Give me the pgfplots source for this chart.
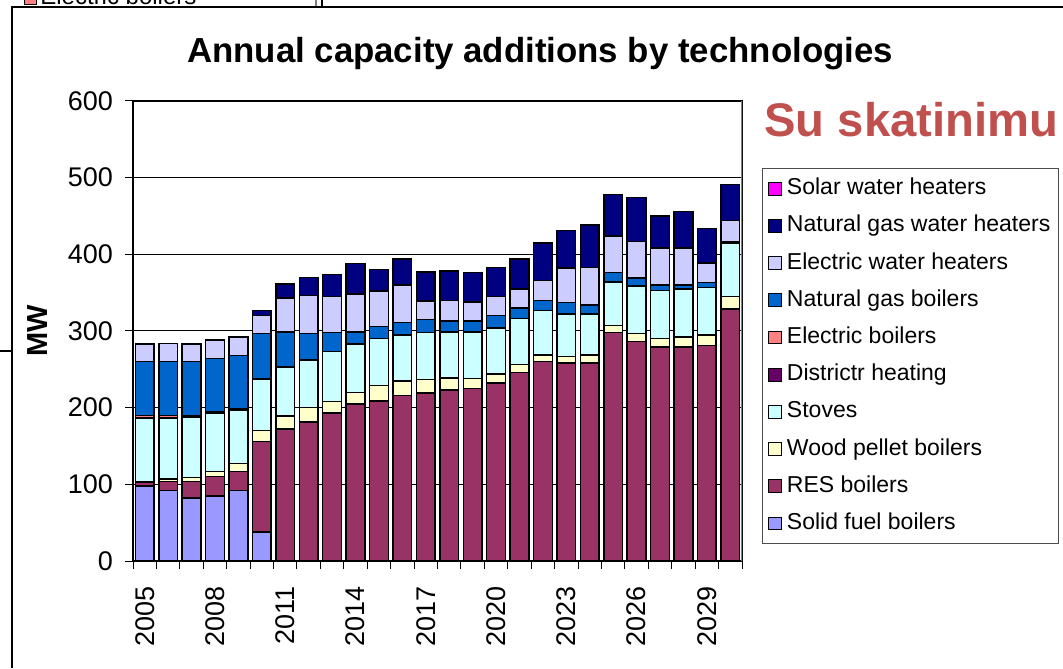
\documentclass[border=0pt]{standalone}
\usepackage{pgfplots}
\pgfplotsset{compat=1.18}
\usepackage{pgfplotstable}
\usepackage{fontspec}
\setmainfont{Liberation Sans}

\definecolor{csf}{HTML}{9999FF}
\definecolor{cres}{HTML}{993366}
\definecolor{cwp}{HTML}{FFFFCC}
\definecolor{cst}{HTML}{CCFFFF}
\definecolor{cdh}{HTML}{660066}
\definecolor{ceb}{HTML}{FF8080}
\definecolor{cng}{HTML}{0066CC}
\definecolor{cewh}{HTML}{CCCCFF}
\definecolor{cngwh}{HTML}{000080}
\definecolor{csol}{HTML}{FF00FF}
\definecolor{skred}{RGB}{192,80,77}

\pgfplotstableread{
year SF RES WP ST DH EB NG EWH NGWH SOL
2005 98 5 0.5 83 0 3 70.5 23 0 0
2006 92 12 3 79.5 0 3 71 23 0 0
2007 82 22 5 79 2 0 70 23 0 0
2008 85 25 7 76 2 0 69 24 0 0
2009 92 25 10 70 2 0 69 24 0 0
2010 38 118 14 67 1 0 59 23 7 0
2011 0 172 17 64 0 0 46 44 18 0
2012 0 181 19 62 0 0 35 49 24 0
2013 0 193 15 65 0 0 25 47 29 0
2014 0 205 15 63 0 0 16 49 40 0
2015 0 209 20 61 0 0 16 46 28 0
2016 0 216 19 60 0 0 16 49 34 0
2017 0 219 18 61 0 0 17 24 38 0
2018 0 223 16 60 0 0 14 27 38 0
2019 0 225 13 61 0 0 14 25 38 0
2020 0 232 12 60 0 0 16 25 38 0
2021 0 246 10 60 0 0 14 25 39 0
2022 0 260 9 58 0 0 13 26 49 0
2023 0 258 9 55 0 0 15 45 49 0
2024 0 258 11 53 0 0 12 49 55 0
2025 0 298 9 57 0 0 12 48 54 0
2026 0 286 11 62 0 0 10 48 57 0
2027 0 279 11 63 0 0 7 48 42 0
2028 0 279 13 63 0 0 5 48 48 0
2029 0 281 14 62 0 0 6 26 45 0
2030 0 329 16 70 0 0 2 27 47 0
}\datatable

\begin{document}
\begin{tikzpicture}
\begin{scope}[x=0.5pt,y=-0.5pt,shift={(0pt,334pt)}]
\path[use as bounding box] (0,0) rectangle (1063,668);
% fragment of a chart behind
\node[anchor=base west,inner sep=0pt,font=\fontsize{12}{14}\selectfont] at (40,5) {Electric boilers};
\draw[fill=ceb,line width=0.5pt] (24,-6) rectangle (36,5);
\draw[gray,line width=0.6pt] (316,0)--(316,7);
\draw[black,line width=0.6pt] (322,0)--(322,7);
\fill[white] (12,7) rectangle (1063,668);
\draw[line width=0.8pt] (12,668)--(12,7)--(1063,7);
\draw[line width=0.6pt] (0,351)--(12,351);
% title
\node[anchor=base,inner sep=0pt,font=\bfseries\fontsize{17.4}{20}\selectfont] at (540,63) {Annual capacity additions by technologies};
\node[anchor=base west,inner sep=0pt,text=skred,font=\bfseries\fontsize{23.6}{27}\selectfont] at (764,137) {Su skatinimu};
\end{scope}
\begin{axis}[
  at={(66.5pt,53.5pt)}, anchor=south west,
  scale only axis, width=304.5pt, height=230pt,
  ybar stacked, bar width=0.8,
  xmin=2004.5, xmax=2030.5, ymin=0, ymax=600,
  xtick={2005,2008,2011,2014,2017,2020,2023,2026,2029},
  minor xtick={2004.5,2005.5,...,2030.5},
  ytick={0,100,200,300,400,500,600},
  ymajorgrids, grid style={black,line width=0.5pt},
  axis line style={black,line width=0.6pt},
  tick align=outside, tick pos=left,
  major x tick style={draw=none},
  tick style={black,line width=0.5pt},
  major tick length=4pt, minor tick length=4pt,
  /pgf/number format/1000 sep={},
  /pgf/number format/assume math mode=true,
  tick label style={font=\fontsize{13.5}{15}\selectfont},
  x tick label style={rotate=90,anchor=east},
  xticklabel shift=5pt, yticklabel shift=2.5pt,
  ylabel={MW},
  every axis y label/.style={at={(axis description cs:-0.156,0.5)},rotate=90,anchor=center,font=\bfseries\fontsize{14.5}{16}\selectfont},
  every axis plot/.append style={draw=black,line width=0.75pt},
  reverse legend,
  legend style={at={(1.0328,0.8543)},anchor=north west,draw=gray!60!black,line width=0.6pt,
    font=\fontsize{11.5}{13}\selectfont,row sep=7.6pt,inner xsep=2pt,inner ysep=4.5pt,
    nodes={text height=8.5pt,text depth=2.5pt,inner ysep=0pt},
    cells={anchor=west}},
  legend image code/.code={\path[draw=none,fill=none] (0pt,0pt) -- (8.2pt,0pt);\draw[#1,draw=black,line width=0.5pt] (1pt,-3.2pt) rectangle (7.4pt,3.2pt);},
]
\addplot[fill=csf] table[x=year,y=SF] {\datatable};
\addplot[fill=cres] table[x=year,y=RES] {\datatable};
\addplot[fill=cwp] table[x=year,y=WP] {\datatable};
\addplot[fill=cst] table[x=year,y=ST] {\datatable};
\addplot[fill=cdh] table[x=year,y=DH] {\datatable};
\addplot[fill=ceb] table[x=year,y=EB] {\datatable};
\addplot[fill=cng] table[x=year,y=NG] {\datatable};
\addplot[fill=cewh] table[x=year,y=EWH] {\datatable};
\addplot[fill=cngwh] table[x=year,y=NGWH] {\datatable};
\addplot[fill=csol] table[x=year,y=SOL] {\datatable};
\legend{Solid fuel boilers,RES boilers,Wood pellet boilers,Stoves,Districtr heating,Electric boilers,Natural gas boilers,Electric water heaters,Natural gas water heaters,Solar water heaters}
\draw[gray,line width=0.8pt] (rel axis cs:1,0)--(rel axis cs:1,1);
\end{axis}
\end{tikzpicture}
\end{document}
